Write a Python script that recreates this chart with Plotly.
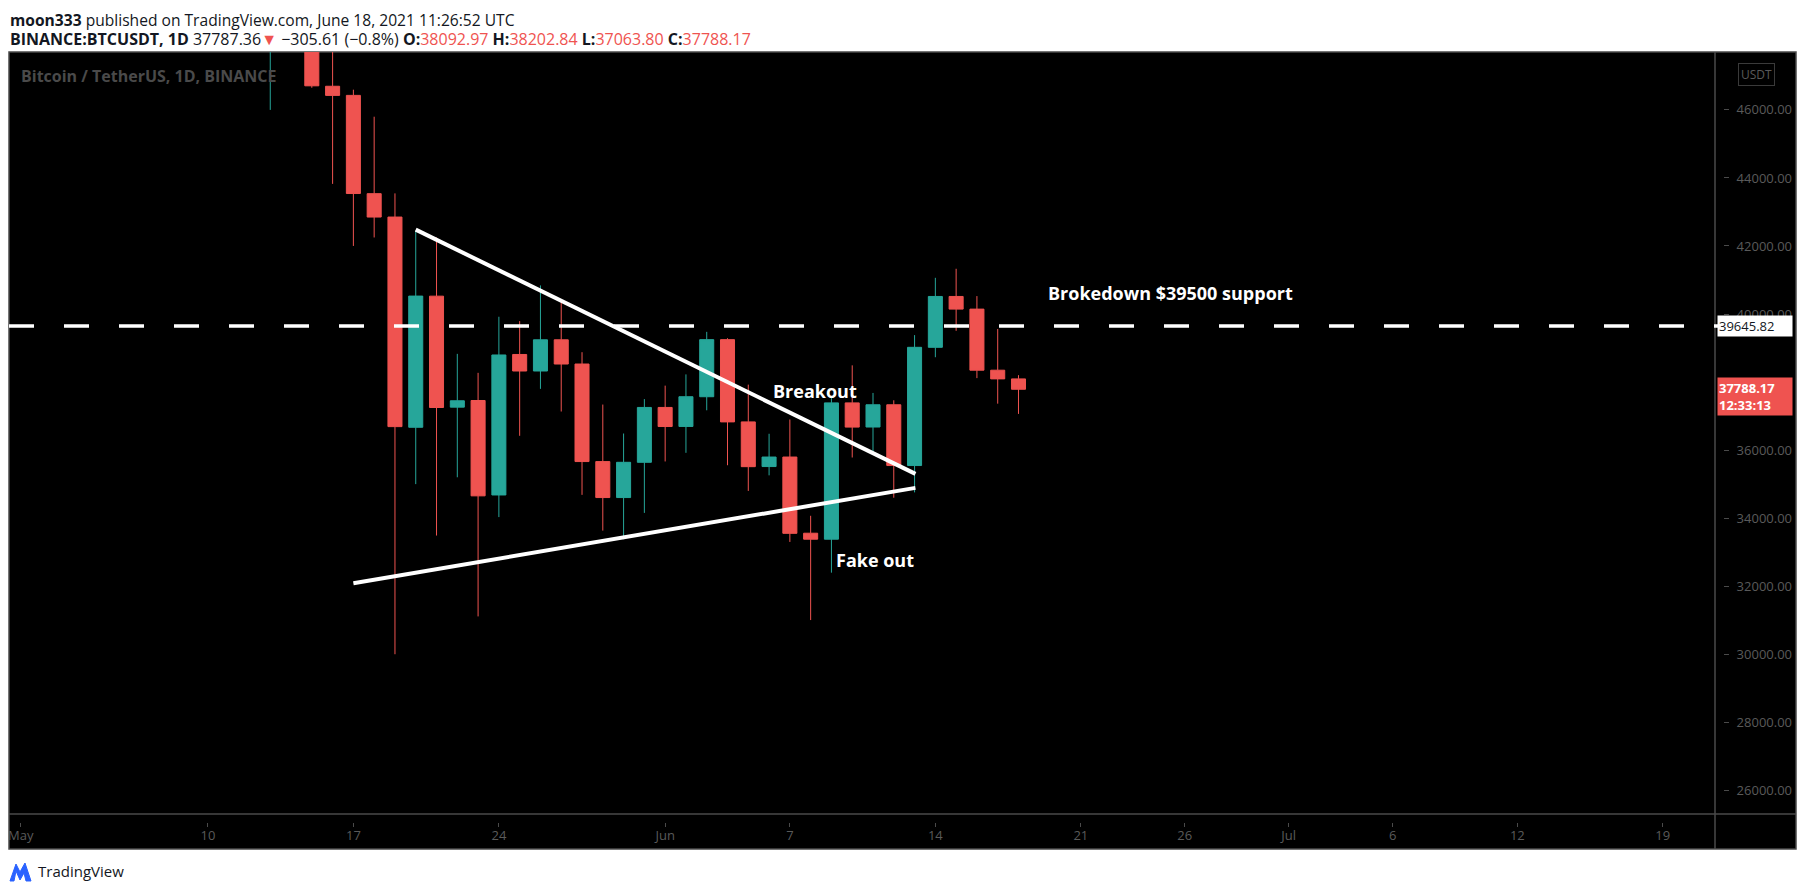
import plotly.graph_objects as go

# daily BTCUSDT candles
dates = [
    "2021-05-13", "2021-05-14", "2021-05-15", "2021-05-16", "2021-05-17", "2021-05-18",
    "2021-05-19", "2021-05-20", "2021-05-21", "2021-05-22", "2021-05-23", "2021-05-24",
    "2021-05-25", "2021-05-26", "2021-05-27", "2021-05-28", "2021-05-29", "2021-05-30",
    "2021-05-31", "2021-06-01", "2021-06-02", "2021-06-03", "2021-06-04", "2021-06-05",
    "2021-06-06", "2021-06-07", "2021-06-08", "2021-06-09", "2021-06-10", "2021-06-11",
    "2021-06-12", "2021-06-13", "2021-06-14", "2021-06-15", "2021-06-16", "2021-06-17",
    "2021-06-18",
]
opens = [
    49537, 49671, 49844, 46695, 46427, 43538, 42850, 36671, 40525, 37263, 37458, 34681,
    38811, 38325, 39242, 38530, 35662, 34605, 35641, 37254, 36695, 37569, 39247, 36829,
    35516, 35796, 33557, 33381, 37388, 36678, 37332, 35546, 39021, 40516, 40144, 38349,
    38092.97,
]
highs = [
    51367, 51483, 50700, 49800, 46594, 45800, 43546, 42452, 42250, 38829, 38271, 39920,
    39792, 40841, 40411, 38878, 37339, 36488, 37499, 37895, 38225, 39476, 39289, 37925,
    36480, 36900, 34069, 37530, 38491, 37680, 37464, 39380, 41064, 41330, 40527, 39560,
    38202.84,
]
lows = [
    46000, 48868, 46650, 43825, 42001, 42250, 30000, 35000, 33488, 35201, 31111, 34031,
    36420, 37800, 37134, 34684, 33633, 33379, 34154, 35666, 35920, 37170, 35555, 34800,
    35258, 33300, 31004, 32397, 35782, 35937, 34600, 34757, 38730, 39506, 38116, 37365,
    37063.80,
]
closes = [
    49671, 49841, 46708, 46427, 43542, 42850, 36690, 40527, 37252, 37450, 34655, 38796,
    38325, 39242, 38530, 35663, 34605, 35641, 37254, 36693, 37569, 39247, 36829, 35513,
    35796, 33553, 33381, 37388, 36676, 37332, 35546, 39021, 40516, 40144, 38349, 38093,
    37788.17,
]

support_price = 39645.82
upper_line_dates = ["2021-05-20", "2021-06-13 01:00"]
upper_line_prices = [42480, 35300]
lower_line_dates = ["2021-05-17", "2021-06-13 01:00"]
lower_line_prices = [32085, 34890]

price_ticks = list(range(26000, 46001, 2000))
date_tickvals = [
    "2021-05-01", "2021-05-10", "2021-05-17", "2021-05-24", "2021-06-01", "2021-06-07",
    "2021-06-14", "2021-06-21", "2021-06-26", "2021-07-01", "2021-07-06", "2021-07-12",
    "2021-07-19",
]
date_ticktext = ["May", "10", "17", "24", "Jun", "7", "14", "21", "26", "Jul", "6", "12", "19"]

notes = [
    ("Breakout", "2021-06-08 05:00", 37726),
    ("Fake out", "2021-06-11 02:00", 32770),
    ("Brokedown $39500 support", "2021-06-25 08:00", 40632),
]

# the page body adds an 8px margin, so the figure is drawn 8px in from the corner
OFF = 8
W, H = 1805 - OFF, 895 - OFF
L, R, T, B = 9 - OFF, 90 - OFF, 52 - OFF, 81 - OFF
RED = "#ef5350"
TEAL = "#26a69a"
GRAY = "#5a5a5a"
FONT = "Open Sans, Noto Sans, sans-serif"


def px(x, y):
    # pixel position in the screenshot -> paper coords
    x, y = x - OFF, y - OFF
    return (x - L) / (W - L - R), (H - B - y) / (H - T - B)


candles = go.Candlestick(
    x=dates, open=opens, high=highs, low=lows, close=closes,
    increasing=dict(line=dict(color=TEAL, width=1), fillcolor=TEAL),
    decreasing=dict(line=dict(color=RED, width=1), fillcolor=RED),
    hoverinfo="skip",
    showlegend=False,
)

upper = go.Scatter(x=upper_line_dates, y=upper_line_prices, mode="lines",
                   line=dict(color="white", width=4), hoverinfo="skip", showlegend=False)
lower = go.Scatter(x=lower_line_dates, y=lower_line_prices, mode="lines",
                   line=dict(color="white", width=4), hoverinfo="skip", showlegend=False)

fig = go.Figure(data=[candles, upper, lower])

# frame of the chart widget
fx0, fy0 = px(9, 849)
fx1, fy1 = px(1796, 52)
ax_x, _ = px(1715, 0)
_, ax_y = px(0, 814)
shapes = [
    dict(type="rect", xref="paper", yref="paper", x0=fx0, y0=fy0, x1=fx1, y1=fy1,
         fillcolor="black", line=dict(color="#4a4a4a", width=1.5), layer="below"),
    dict(type="line", xref="paper", yref="paper", x0=fx0, x1=fx1, y0=ax_y, y1=ax_y,
         line=dict(color="#4a4a4a", width=1.5)),
    dict(type="line", xref="paper", yref="paper", x0=ax_x, x1=ax_x, y0=fy0, y1=fy1,
         line=dict(color="#4a4a4a", width=1.5)),
    dict(type="line", xref="paper", yref="y", x0=0, x1=1, y0=support_price, y1=support_price,
         line=dict(color="white", width=3.5, dash="25px,30px")),
]

# TradingView logo mark
lx, ly = 10, 861
pts = [(0, 20), (6, 3), (10, 11), (15, 2), (21, 20), (16, 20), (14, 12), (10, 19), (6, 10), (4, 20)]
path = "M " + " L ".join("{:.5f},{:.5f}".format(*px(lx + a, ly + b)) for a, b in pts) + " Z"
shapes.append(dict(type="path", xref="paper", yref="paper", path=path,
                   fillcolor="#2962ff", line=dict(color="#2962ff", width=1)))

annotations = []
hx, htop = px(9, OFF)
_, hy2 = px(9, 39)
annotations.append(dict(
    xref="paper", yref="paper", x=hx, y=htop, xanchor="left", yanchor="top", showarrow=False,
    text="<b>moon333</b> published on TradingView.com, June 18, 2021 11:26:52 UTC",
    font=dict(family=FONT, size=15.6, color="#131722"), borderpad=0))
red = lambda s: "<span style='color:%s'>%s</span>" % (RED, s)
line2 = ("<b>BINANCE:BTCUSDT, 1D</b> 37787.36" + red("▼") + " −305.61 (−0.8%) "
         "<b>O:</b>" + red("%.2f" % opens[-1]) + " <b>H:</b>" + red("%.2f" % highs[-1]) +
         " <b>L:</b>" + red("%.2f" % lows[-1]) + " <b>C:</b>" + red("%.2f" % closes[-1]))
annotations.append(dict(
    xref="paper", yref="paper", x=hx, y=hy2, xanchor="left", yanchor="middle", showarrow=False,
    text=line2, font=dict(family=FONT, size=16, color="#131722"), borderpad=0))

wx, wy = px(19, 76)
annotations.append(dict(
    xref="paper", yref="paper", x=wx, y=wy, xanchor="left", yanchor="middle", showarrow=False,
    text="<b>Bitcoin / TetherUS, 1D, BINANCE</b>", font=dict(family=FONT, size=16, color="#4a4a4a")))

ux, uy = px(1756, 75)
annotations.append(dict(
    xref="paper", yref="paper", x=ux, y=uy, xanchor="center", yanchor="middle", showarrow=False,
    text="USDT", font=dict(family=FONT, size=12, color=GRAY), bordercolor="#3a3a3a",
    borderwidth=1, borderpad=2))

bx, _ = px(1717, 0)
annotations.append(dict(
    xref="paper", yref="y", x=bx, y=support_price, xanchor="left", yanchor="middle",
    showarrow=False, text="39645.82", align="left", width=72, bgcolor="white",
    font=dict(family=FONT, size=13, color="#131722"), borderpad=1))
annotations.append(dict(
    xref="paper", yref="y", x=bx, y=closes[-1], xanchor="left", yanchor="top", yshift=12,
    showarrow=False, text="<b>37788.17</b><br><b>12:33:13</b>", align="left", width=72,
    bgcolor=RED, font=dict(family=FONT, size=13, color="white"), borderpad=1))

for text, d, p in notes:
    annotations.append(dict(
        x=d, y=p, xref="x", yref="y", showarrow=False, text="<b>%s</b>" % text,
        font=dict(family=FONT, size=18, color="white")))

tx, ty = px(36, 871)
annotations.append(dict(
    xref="paper", yref="paper", x=tx, y=ty, xanchor="left", yanchor="middle", showarrow=False,
    text="TradingView", font=dict(family=FONT, size=15, color="#131722")))

fig.update_layout(
    width=W, height=H,
    margin=dict(l=L, r=R, t=T, b=B),
    paper_bgcolor="white",
    plot_bgcolor="black",
    showlegend=False,
    hovermode=False,
    boxgap=0.1,
    boxgroupgap=0.25,
    shapes=shapes,
    annotations=annotations,
    font=dict(family=FONT),
)
fig.update_xaxes(
    type="date", range=["2021-04-30 10:20", "2021-07-21 21:30"],
    rangeslider=dict(visible=False), showgrid=False, zeroline=False,
    tickvals=date_tickvals, ticktext=date_ticktext,
    ticks="outside", ticklen=4, tickcolor="#4a4a4a", ticklabelstandoff=-3,
    tickfont=dict(family=FONT, size=13, color=GRAY),
)
fig.update_yaxes(
    side="right", range=[25068, 47702], showgrid=False, zeroline=False,
    tickvals=price_ticks, ticktext=["%.2f" % v for v in price_ticks],
    ticks="outside", ticklen=5, tickcolor="#4a4a4a", ticklabelstandoff=5,
    tickfont=dict(family=FONT, size=13, color=GRAY),
)

fig.write_html("out.html", config=dict(displayModeBar=False))
